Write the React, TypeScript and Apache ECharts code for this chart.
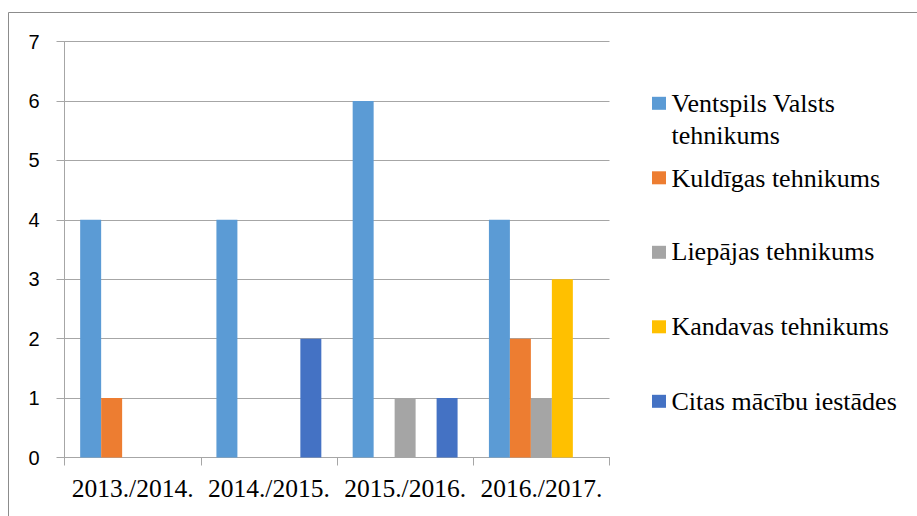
import React, { useEffect, useRef } from "react";
import * as echarts from "echarts";

const categories = ["2013./2014.", "2014./2015.", "2015./2016.", "2016./2017."];
const seriesNames = [
  "Ventspils Valsts tehnikums",
  "Kuldīgas tehnikums",
  "Liepājas tehnikums",
  "Kandavas tehnikums",
  "Citas mācību iestādes",
];
const legendLines = [
  ["Ventspils Valsts", "tehnikums"],
  ["Kuldīgas tehnikums"],
  ["Liepājas tehnikums"],
  ["Kandavas tehnikums"],
  ["Citas mācību iestādes"],
];
const ventspils = [4, 4, 6, 4];
const kuldigas = [1, 0, 0, 2];
const liepajas = [0, 0, 1, 1];
const kandavas = [0, 0, 0, 3];
const citas = [0, 2, 1, 0];
const seriesValues = [ventspils, kuldigas, liepajas, kandavas, citas];
const colors = ["#5B9BD5", "#ED7D31", "#A5A5A5", "#FFC000", "#4472C4"];
const yTicks = [0, 1, 2, 3, 4, 5, 6, 7];

export default function App() {
  const ref = useRef<HTMLDivElement>(null);
  useEffect(() => {
    if (!ref.current) return;
    const chart = echarts.init(ref.current, undefined, { renderer: "svg" });
    const serif = "Liberation Serif";
    const markerCenters = [103.3, 178, 251.7, 326.7, 401.3];
    const legendTexts: any[] = [];
    legendLines.forEach((lines, i) => {
      lines.forEach((line, j) => {
        legendTexts.push({
          type: "text",
          x: 671.5,
          y: markerCenters[i] + j * 32,
          silent: true,
          style: {
            text: line,
            fontFamily: serif,
            fontSize: 26,
            fill: "#000",
            align: "left",
            verticalAlign: "middle",
          },
        });
      });
    });
    chart.setOption({
      animation: false,
      color: colors,
      textStyle: { fontFamily: serif },
      graphic: [
        {
          type: "rect",
          shape: { x: 8.5, y: 12.5, width: 1000, height: 1000 },
          style: { fill: "none", stroke: "#8c8c8c", lineWidth: 1 },
          silent: true,
        },
        ...legendTexts,
      ],
      legend: {
        show: true,
        data: seriesNames,
        orient: "vertical",
        left: 652,
        top: 96.8,
        padding: 0,
        itemWidth: 14,
        itemHeight: 13,
        itemGap: 61.5,
        icon: "rect",
        selectedMode: false,
        formatter: () => "",
        textStyle: { fontSize: 1 },
      },
      grid: { left: 64.5, right: 307.5, top: 41.5, bottom: 58.5, containLabel: false },
      xAxis: {
        type: "category",
        data: categories,
        axisLine: { show: true, lineStyle: { color: "#a6a6a6", width: 1 } },
        axisTick: { show: true, length: 8, alignWithLabel: false, interval: 0, lineStyle: { color: "#a6a6a6" } },
        axisLabel: { fontFamily: serif, fontSize: 25.5, color: "#000", margin: 18, interval: 0 },
        splitLine: { show: false },
      },
      yAxis: {
        type: "value",
        min: yTicks[0],
        max: yTicks[yTicks.length - 1],
        interval: 1,
        axisLine: { show: true, lineStyle: { color: "#a6a6a6", width: 1 } },
        axisTick: { show: true, length: 8, lineStyle: { color: "#a6a6a6" } },
        axisLabel: { fontFamily: "Liberation Sans", fontSize: 20, color: "#000", margin: 25 },
        splitLine: { show: true, lineStyle: { color: "#a6a6a6", width: 1 } },
      },
      series: seriesNames.map((name, i) => ({
        name,
        type: "bar",
        data: seriesValues[i],
        barGap: "0%",
        barCategoryGap: "23%",
        itemStyle: { color: colors[i] },
      })),
    });
    return () => chart.dispose();
  }, []);
  return (
    <div
      ref={ref}
      style={{ position: "absolute", left: 0, top: 0, width: 917, height: 516, background: "#fff" }}
    />
  );
}
